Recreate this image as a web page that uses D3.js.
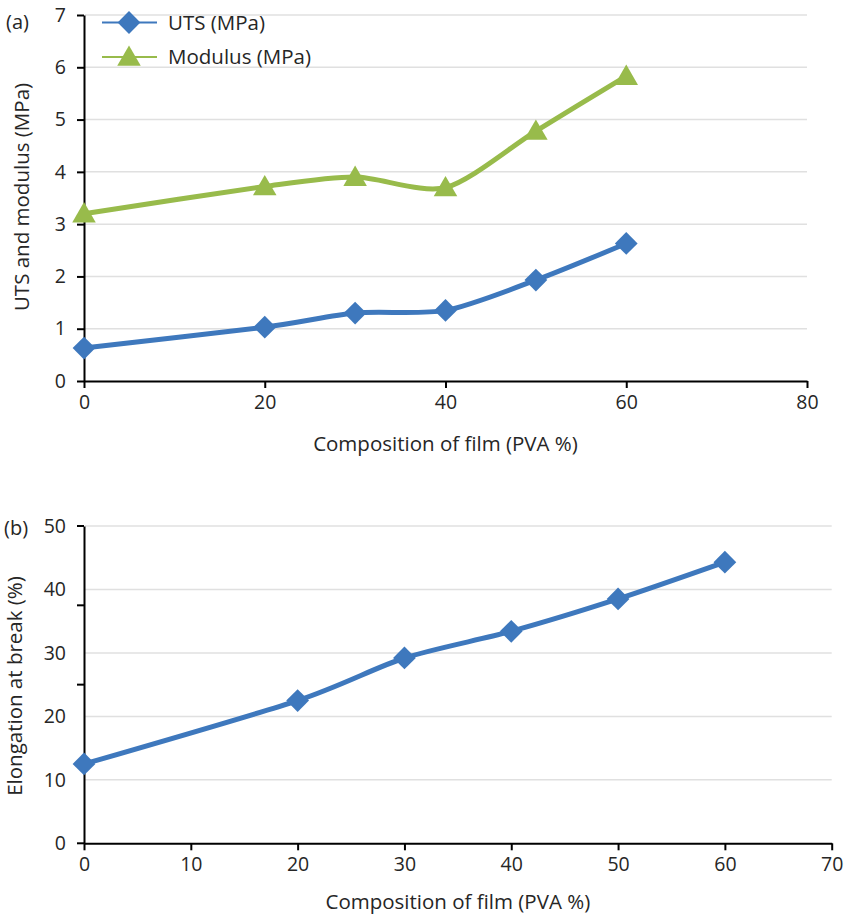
<!DOCTYPE html>
<html>
<head>
<meta charset="utf-8">
<script src="https://cdn.jsdelivr.net/npm/d3@7"></script>
<style>
    body { margin: 0; background: #fff; }
    svg text { font-family: "Open Sans", "Noto Sans", sans-serif; fill: #262626; }
</style>
</head>
<body>
<svg id="chart" width="846" height="917"></svg>
<script>
(function () {

    // data
    const pva = [0, 20, 30, 40, 50, 60];
    const uts = [0.63, 1.03, 1.3, 1.35, 1.93, 2.63];
    const modulus = [3.2, 3.72, 3.9, 3.7, 4.78, 5.83];
    const elongation = [12.5, 22.5, 29.2, 33.4, 38.5, 44.3];

    const ticksA = { x: [0, 20, 40, 60, 80], y: [0, 1, 2, 3, 4, 5, 6, 7] };
    const ticksB = { x: [0, 10, 20, 30, 40, 50, 60, 70], y: [0, 10, 20, 30, 40, 50] };
    const tickMarksB = [0, 12.5, 25, 37.5, 50];

    const blue = '#3e78bd';
    const green = '#98bb4b';

    const svg = d3.select('#chart');

    const diamond = d3.symbol().type(d3.symbolDiamond2).size(330);
    const triangle = d3.symbol().type(d3.symbolTriangle).size(240);

    function drawPanel (opts) {
        const x = d3.scaleLinear().domain(opts.xDomain).range(opts.xRange);
        const y = d3.scaleLinear().domain(opts.yDomain).range(opts.yRange);
        const g = svg.append('g');

        // gridlines
        g.append('g').selectAll('line')
            .data(opts.yTicks.filter(d => d !== 0))
            .join('line')
            .attr('x1', x(opts.xDomain[0]) + 1)
            .attr('x2', x(opts.xDomain[1]))
            .attr('y1', d => y(d))
            .attr('y2', d => y(d))
            .attr('stroke', '#e0e0e0')
            .attr('stroke-width', 1.5);

        const xAxis = g.append('g')
            .attr('transform', `translate(0,${y(0)})`)
            .call(d3.axisBottom(x).tickValues(opts.xTicks).tickFormat(d3.format('d')).tickSize(7).tickPadding(7).tickSizeOuter(0));

        const yAxis = g.append('g')
            .attr('transform', `translate(${x(0)},0)`)
            .call(d3.axisLeft(y).tickValues(opts.yTicks).tickFormat(d3.format('d')).tickSize(opts.yMarks ? 0 : 7).tickPadding(opts.yMarks ? 18 : 11).tickSizeOuter(0));

        // panel (b) has its tick marks on a different step than its labels
        if (opts.yMarks) {
            g.append('g').selectAll('line')
                .data(opts.yMarks)
                .join('line')
                .attr('x1', x(0) - 7)
                .attr('x2', x(0))
                .attr('y1', d => y(d))
                .attr('y2', d => y(d))
                .attr('stroke', '#000')
                .attr('stroke-width', 2);
        }

        [xAxis, yAxis].forEach(a => {
            a.select('.domain').attr('stroke', '#000').attr('stroke-width', 2);
            a.selectAll('.tick line').attr('stroke', '#000').attr('stroke-width', 2);
            a.selectAll('.tick text')
                .attr('font-size', 19.5)
                .style('font-family', '"Open Sans", "Noto Sans", sans-serif')
                .attr('fill', '#262626');
        });

        g.append('text')
            .attr('x', (opts.xRange[0] + opts.xRange[1]) / 2)
            .attr('y', opts.xTitleY)
            .attr('text-anchor', 'middle')
            .attr('font-size', 20.5)
            .text('Composition of film (PVA %)');

        g.append('text')
            .attr('transform', `translate(${opts.yTitleX},${opts.yTitleMid}) rotate(-90)`)
            .attr('text-anchor', 'middle')
            .attr('font-size', 20.5)
            .text(opts.yTitle);

        g.append('text')
            .attr('x', opts.tag[0])
            .attr('y', opts.tag[1])
            .attr('font-size', 20)
            .text(opts.label);

        const line = d3.line()
            .curve(d3.curveCardinal.tension(0.2))
            .x((d, i) => x(pva[i]))
            .y(d => y(d));

        opts.series.forEach(s => {
            g.append('path')
                .datum(s.values)
                .attr('d', line)
                .attr('fill', 'none')
                .attr('stroke', s.color)
                .attr('stroke-width', 5)
                .attr('stroke-linejoin', 'round');

            g.append('g').selectAll('path')
                .data(s.values)
                .join('path')
                .attr('d', s.symbol)
                .attr('transform', (d, i) => `translate(${x(pva[i])},${y(d) + (s.symbol === triangle ? 2 : 0)})`)
                .attr('fill', s.color);
        });

        return { x, y, g };
    }

    drawPanel({
        xDomain: [0, 80], xRange: [84, 807],
        yDomain: [0, 7], yRange: [381, 15],
        xTicks: ticksA.x, yTicks: ticksA.y,
        xTitleY: 451, yTitleX: 29, yTitleMid: 197,
        yTitle: 'UTS and modulus (MPa)',
        tag: [6, 29], label: '(a)',
        series: [
            { values: uts, color: blue, symbol: diamond },
            { values: modulus, color: green, symbol: triangle }
        ]
    });

    drawPanel({
        xDomain: [0, 70], xRange: [84, 831.7],
        yDomain: [0, 50], yRange: [843.3, 526],
        xTicks: ticksB.x, yTicks: ticksB.y, yMarks: tickMarksB,
        xTitleY: 909, yTitleX: 22, yTitleMid: 686,
        yTitle: 'Elongation at break (%)',
        tag: [4, 535], label: '(b)',
        series: [
            { values: elongation, color: blue, symbol: diamond }
        ]
    });

    // legend for panel (a)
    const legendItems = [
        { name: 'UTS (MPa)', color: blue, symbol: diamond },
        { name: 'Modulus (MPa)', color: green, symbol: triangle }
    ];
    const legend = svg.append('g');
    legendItems.forEach((d, i) => {
        const row = legend.append('g').attr('transform', `translate(102,${22.5 + i * 34.5})`);
        row.append('line').attr('x1', 0).attr('x2', 55).attr('stroke', d.color).attr('stroke-width', 2);
        row.append('path').attr('d', d.symbol).attr('transform', `translate(27,${d.symbol === triangle ? 2 : 0})`).attr('fill', d.color);
        row.append('text').attr('x', 66).attr('y', 7).attr('font-size', 20.5).text(d.name);
    });

})();
</script>
</body>
</html>
